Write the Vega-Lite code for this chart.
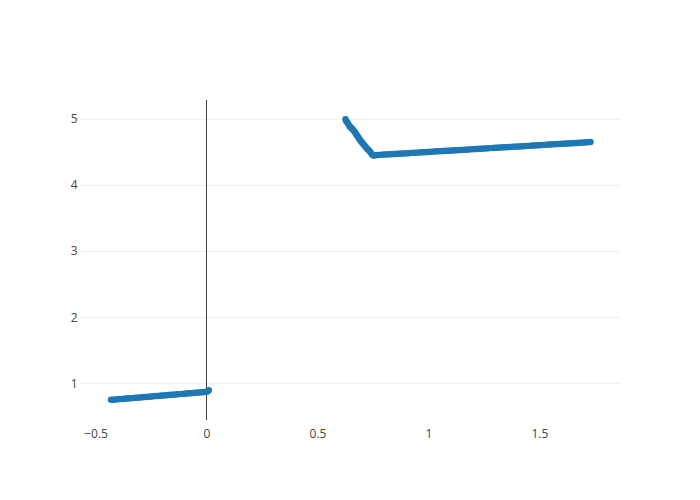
{
  "$schema": "https://vega.github.io/schema/vega-lite/v6.json",
  "width": 540,
  "height": 320,
  "autosize": {"type": "none"},
  "padding": {"left": 80, "top": 100, "right": 80, "bottom": 80},
  "background": "white",
  "config": {
    "view": {"stroke": null},
    "axis": {
      "domain": false,
      "ticks": false,
      "gridColor": "#eeeeee",
      "gridWidth": 1,
      "labelColor": "#444444",
      "labelFont": "Open Sans",
      "labelFontSize": 12,
      "title": null
    }
  },
  "data": {"values": [
    {"x": -0.43, "y": 0.750}, {"x": -0.42, "y": 0.752}, {"x": -0.41, "y": 0.755}, {"x": -0.40, "y": 0.758},
    {"x": -0.39, "y": 0.761}, {"x": -0.38, "y": 0.764}, {"x": -0.37, "y": 0.766}, {"x": -0.36, "y": 0.769},
    {"x": -0.35, "y": 0.772}, {"x": -0.34, "y": 0.775}, {"x": -0.33, "y": 0.778}, {"x": -0.32, "y": 0.780},
    {"x": -0.31, "y": 0.783}, {"x": -0.30, "y": 0.786}, {"x": -0.29, "y": 0.789}, {"x": -0.28, "y": 0.792},
    {"x": -0.27, "y": 0.794}, {"x": -0.26, "y": 0.797}, {"x": -0.25, "y": 0.800}, {"x": -0.24, "y": 0.803},
    {"x": -0.23, "y": 0.806}, {"x": -0.22, "y": 0.808}, {"x": -0.21, "y": 0.811}, {"x": -0.20, "y": 0.814},
    {"x": -0.19, "y": 0.817}, {"x": -0.18, "y": 0.820}, {"x": -0.17, "y": 0.822}, {"x": -0.16, "y": 0.825},
    {"x": -0.15, "y": 0.828}, {"x": -0.14, "y": 0.831}, {"x": -0.13, "y": 0.834}, {"x": -0.12, "y": 0.836},
    {"x": -0.11, "y": 0.839}, {"x": -0.10, "y": 0.842}, {"x": -0.09, "y": 0.845}, {"x": -0.08, "y": 0.848},
    {"x": -0.07, "y": 0.850}, {"x": -0.06, "y": 0.853}, {"x": -0.05, "y": 0.856}, {"x": -0.04, "y": 0.859},
    {"x": -0.03, "y": 0.862}, {"x": -0.02, "y": 0.864}, {"x": -0.01, "y": 0.867}, {"x": 0.0, "y": 0.870},
    {"x": 0.005, "y": 0.880}, {"x": 0.01, "y": 0.895},
    {"x": 0.626, "y": 4.99}, {"x": 0.630, "y": 4.96}, {"x": 0.635, "y": 4.94}, {"x": 0.640, "y": 4.91},
    {"x": 0.645, "y": 4.88}, {"x": 0.650, "y": 4.865}, {"x": 0.655, "y": 4.85}, {"x": 0.660, "y": 4.83},
    {"x": 0.665, "y": 4.81}, {"x": 0.670, "y": 4.785}, {"x": 0.675, "y": 4.76}, {"x": 0.680, "y": 4.735},
    {"x": 0.685, "y": 4.71}, {"x": 0.690, "y": 4.685}, {"x": 0.695, "y": 4.66}, {"x": 0.700, "y": 4.64},
    {"x": 0.705, "y": 4.62}, {"x": 0.710, "y": 4.60}, {"x": 0.715, "y": 4.58}, {"x": 0.720, "y": 4.56},
    {"x": 0.725, "y": 4.54}, {"x": 0.730, "y": 4.525}, {"x": 0.735, "y": 4.51}, {"x": 0.740, "y": 4.485},
    {"x": 0.745, "y": 4.46}, {"x": 0.750, "y": 4.445}, {"x": 0.755, "y": 4.443},
    {"x": 0.76, "y": 4.447}, {"x": 0.77, "y": 4.449}, {"x": 0.78, "y": 4.451}, {"x": 0.79, "y": 4.453},
    {"x": 0.80, "y": 4.455}, {"x": 0.81, "y": 4.457}, {"x": 0.82, "y": 4.459}, {"x": 0.83, "y": 4.461},
    {"x": 0.84, "y": 4.463}, {"x": 0.85, "y": 4.465}, {"x": 0.86, "y": 4.467}, {"x": 0.87, "y": 4.469},
    {"x": 0.88, "y": 4.471}, {"x": 0.89, "y": 4.473}, {"x": 0.90, "y": 4.475}, {"x": 0.91, "y": 4.477},
    {"x": 0.92, "y": 4.479}, {"x": 0.93, "y": 4.481}, {"x": 0.94, "y": 4.483}, {"x": 0.95, "y": 4.485},
    {"x": 0.96, "y": 4.488}, {"x": 0.97, "y": 4.490}, {"x": 0.98, "y": 4.492}, {"x": 0.99, "y": 4.494},
    {"x": 1.00, "y": 4.496}, {"x": 1.01, "y": 4.498}, {"x": 1.02, "y": 4.500}, {"x": 1.03, "y": 4.502},
    {"x": 1.04, "y": 4.504}, {"x": 1.05, "y": 4.506}, {"x": 1.06, "y": 4.508}, {"x": 1.07, "y": 4.510},
    {"x": 1.08, "y": 4.512}, {"x": 1.09, "y": 4.514}, {"x": 1.10, "y": 4.516}, {"x": 1.11, "y": 4.518},
    {"x": 1.12, "y": 4.520}, {"x": 1.13, "y": 4.522}, {"x": 1.14, "y": 4.524}, {"x": 1.15, "y": 4.526},
    {"x": 1.16, "y": 4.528}, {"x": 1.17, "y": 4.530}, {"x": 1.18, "y": 4.532}, {"x": 1.19, "y": 4.534},
    {"x": 1.20, "y": 4.536}, {"x": 1.21, "y": 4.539}, {"x": 1.22, "y": 4.541}, {"x": 1.23, "y": 4.543},
    {"x": 1.24, "y": 4.545}, {"x": 1.25, "y": 4.547}, {"x": 1.26, "y": 4.549}, {"x": 1.27, "y": 4.551},
    {"x": 1.28, "y": 4.553}, {"x": 1.29, "y": 4.555}, {"x": 1.30, "y": 4.557}, {"x": 1.31, "y": 4.559},
    {"x": 1.32, "y": 4.561}, {"x": 1.33, "y": 4.563}, {"x": 1.34, "y": 4.565}, {"x": 1.35, "y": 4.567},
    {"x": 1.36, "y": 4.569}, {"x": 1.37, "y": 4.571}, {"x": 1.38, "y": 4.573}, {"x": 1.39, "y": 4.575},
    {"x": 1.40, "y": 4.577}, {"x": 1.41, "y": 4.579}, {"x": 1.42, "y": 4.581}, {"x": 1.43, "y": 4.583},
    {"x": 1.44, "y": 4.585}, {"x": 1.45, "y": 4.587}, {"x": 1.46, "y": 4.590}, {"x": 1.47, "y": 4.592},
    {"x": 1.48, "y": 4.594}, {"x": 1.49, "y": 4.596}, {"x": 1.50, "y": 4.598}, {"x": 1.51, "y": 4.600},
    {"x": 1.52, "y": 4.602}, {"x": 1.53, "y": 4.604}, {"x": 1.54, "y": 4.606}, {"x": 1.55, "y": 4.608},
    {"x": 1.56, "y": 4.610}, {"x": 1.57, "y": 4.612}, {"x": 1.58, "y": 4.614}, {"x": 1.59, "y": 4.616},
    {"x": 1.60, "y": 4.618}, {"x": 1.61, "y": 4.620}, {"x": 1.62, "y": 4.622}, {"x": 1.63, "y": 4.624},
    {"x": 1.64, "y": 4.626}, {"x": 1.65, "y": 4.628}, {"x": 1.66, "y": 4.630}, {"x": 1.67, "y": 4.632},
    {"x": 1.68, "y": 4.634}, {"x": 1.69, "y": 4.636}, {"x": 1.70, "y": 4.638}, {"x": 1.71, "y": 4.641},
    {"x": 1.72, "y": 4.643}, {"x": 1.73, "y": 4.645}
  ]},
  "layer": [
    {
      "mark": {"type": "rule", "color": "#444444", "strokeWidth": 1},
      "encoding": {
        "x": {"datum": 0, "type": "quantitative"}
      }
    },
    {
      "mark": {"type": "point", "filled": true, "size": 42, "color": "#1f77b4", "opacity": 1},
      "encoding": {
        "x": {
          "field": "x", "type": "quantitative",
          "scale": {"domain": [-0.57, 1.863], "nice": false, "zero": false},
          "axis": {"values": [-0.5, 0, 0.5, 1, 1.5], "labelPadding": 8, "format": "~g"}
        },
        "y": {
          "field": "y", "type": "quantitative",
          "scale": {"domain": [0.445, 5.28], "nice": false, "zero": false},
          "axis": {"values": [1, 2, 3, 4, 5], "labelPadding": 3, "format": "d"}
        }
      }
    }
  ]
}
